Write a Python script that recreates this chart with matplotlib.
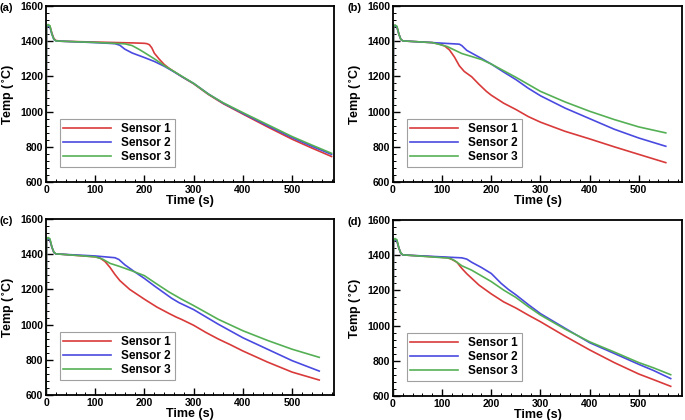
import matplotlib
matplotlib.use("Agg")
import matplotlib.pyplot as plt
from matplotlib.ticker import MultipleLocator

plt.rcParams['font.family'] = ['Liberation Sans', 'DejaVu Sans']
plt.rcParams['font.weight'] = 'bold'

panel_labels = ["(a)", "(b)", "(c)", "(d)"]
series_names = ["Sensor 1", "Sensor 2", "Sensor 3"]
colors = ["#d93a3a", "#4a4ae0", "#55b055"]

start_t = [0, 1, 4, 8, 12, 16, 20, 30]

# Panel (a)
a_t1 = start_t + [100, 180, 200, 205, 210, 215, 220, 230, 240, 250, 275, 300, 330, 360, 400, 450, 500, 540, 580]
a_y1 = [600, 1480, 1492, 1485, 1445, 1415, 1404, 1400, 1395, 1390, 1388, 1386, 1380, 1362, 1332, 1298, 1268, 1246, 1200, 1158, 1097, 1045, 986, 913, 843, 793, 745]
a_t2 = start_t + [100, 140, 150, 160, 175, 200, 220, 240, 260, 280, 300, 330, 360, 400, 450, 500, 540, 580]
a_y2 = [600, 1480, 1490, 1480, 1440, 1410, 1402, 1400, 1392, 1386, 1377, 1355, 1333, 1307, 1285, 1258, 1226, 1192, 1160, 1100, 1048, 990, 920, 852, 803, 757]
a_t3 = start_t + [100, 160, 175, 190, 200, 220, 240, 260, 280, 300, 330, 360, 400, 450, 500, 540, 580]
a_y3 = [600, 1480, 1495, 1488, 1440, 1412, 1402, 1400, 1393, 1385, 1375, 1352, 1335, 1300, 1262, 1228, 1194, 1160, 1099, 1050, 994, 926, 858, 810, 763]

# Panel (b)
b_t1 = start_t + [80, 95, 105, 115, 125, 135, 145, 160, 175, 190, 200, 225, 250, 275, 300, 350, 400, 450, 500, 555]
b_y1 = [600, 1480, 1490, 1480, 1440, 1410, 1402, 1400, 1392, 1383, 1373, 1350, 1310, 1260, 1228, 1198, 1155, 1115, 1093, 1048, 1012, 972, 940, 888, 845, 800, 757, 710]
b_t2 = start_t + [80, 130, 135, 140, 150, 165, 180, 200, 225, 250, 275, 300, 350, 400, 450, 500, 555]
b_y2 = [600, 1480, 1490, 1480, 1440, 1410, 1402, 1400, 1392, 1384, 1383, 1375, 1348, 1325, 1302, 1270, 1225, 1182, 1133, 1090, 1020, 960, 900, 850, 803]
b_t3 = start_t + [80, 90, 110, 125, 140, 160, 180, 200, 220, 250, 300, 350, 400, 450, 500, 555]
b_y3 = [600, 1480, 1492, 1485, 1440, 1410, 1402, 1400, 1392, 1385, 1370, 1350, 1330, 1313, 1296, 1270, 1240, 1195, 1115, 1055, 1002, 955, 913, 879]

# Panel (c)
c_t1 = start_t + [100, 110, 120, 130, 140, 150, 170, 200, 225, 250, 265, 275, 300, 325, 350, 375, 400, 450, 500, 555]
c_y1 = [600, 1480, 1490, 1480, 1440, 1410, 1402, 1400, 1385, 1378, 1358, 1325, 1285, 1250, 1200, 1144, 1100, 1063, 1042, 1030, 996, 955, 918, 885, 850, 787, 730, 685]
c_t2 = start_t + [100, 140, 148, 160, 180, 200, 220, 240, 255, 270, 285, 300, 350, 400, 450, 500, 555]
c_y2 = [600, 1480, 1490, 1480, 1440, 1410, 1402, 1400, 1390, 1380, 1370, 1340, 1300, 1262, 1220, 1180, 1150, 1125, 1105, 1085, 1002, 925, 860, 795, 736]
c_t3 = start_t + [100, 115, 130, 150, 175, 200, 220, 250, 275, 300, 350, 400, 450, 500, 555]
c_y3 = [600, 1480, 1495, 1488, 1440, 1412, 1402, 1400, 1385, 1372, 1348, 1330, 1305, 1278, 1240, 1185, 1145, 1108, 1030, 965, 910, 860, 814]

# Panel (d)
d_t1 = start_t + [110, 120, 130, 140, 150, 175, 200, 225, 250, 275, 300, 350, 400, 450, 500, 530, 565]
d_y1 = [600, 1480, 1490, 1480, 1440, 1410, 1402, 1400, 1386, 1376, 1360, 1325, 1295, 1230, 1180, 1135, 1100, 1060, 1022, 940, 862, 790, 725, 693, 655]
d_t2 = start_t + [140, 150, 160, 180, 200, 220, 235, 250, 275, 300, 350, 400, 450, 500, 530, 565]
d_y2 = [600, 1480, 1490, 1480, 1440, 1410, 1402, 1400, 1385, 1378, 1360, 1330, 1296, 1240, 1205, 1175, 1120, 1068, 985, 903, 842, 780, 745, 699]
d_t3 = start_t + [115, 125, 140, 160, 200, 225, 250, 275, 300, 350, 400, 450, 500, 530, 565]
d_y3 = [600, 1480, 1495, 1488, 1440, 1412, 1402, 1400, 1383, 1370, 1340, 1315, 1250, 1202, 1160, 1108, 1060, 980, 908, 850, 790, 760, 721]

panels = [
    [(a_t1, a_y1), (a_t2, a_y2), (a_t3, a_y3)],
    [(b_t1, b_y1), (b_t2, b_y2), (b_t3, b_y3)],
    [(c_t1, c_y1), (c_t2, c_y2), (c_t3, c_y3)],
    [(d_t1, d_y1), (d_t2, d_y2), (d_t3, d_y3)],
]

W, H = 685, 420
# axes boxes in pixels: left, top, right, bottom
boxes = [(46, 6, 334, 182), (393, 6, 682, 182), (46, 219, 334, 395), (393, 220, 682, 396)]
xmax = [585, 588, 585, 588]

fig = plt.figure(figsize=(W / 100, H / 100), dpi=100)
for i, (l, t, r, b) in enumerate(boxes):
    ax = fig.add_axes([l / W, 1 - b / H, (r - l) / W, (b - t) / H])
    for (tt, yy), c, name in zip(panels[i], colors, series_names):
        ax.plot(tt, yy, color=c, lw=1.2, label=name)
    ax.set_xlim(0, xmax[i])
    ax.set_ylim(600, 1600)
    ax.xaxis.set_major_locator(MultipleLocator(100))
    ax.xaxis.set_minor_locator(MultipleLocator(20))
    ax.yaxis.set_major_locator(MultipleLocator(200))
    ax.yaxis.set_minor_locator(MultipleLocator(40))
    ax.tick_params(which='major', direction='in', length=5, width=1, labelsize=7.5, pad=2)
    ax.tick_params(which='minor', direction='in', length=2.5, width=0.7)
    for lab in ax.get_xticklabels() + ax.get_yticklabels():
        lab.set_fontweight('bold')
    for s in ax.spines.values():
        s.set_linewidth(1.3)
    ax.set_xlabel("Time (s)", fontsize=9, fontweight='bold', labelpad=0)
    ax.set_ylabel("Temp ($^{\\circ}$C)", fontsize=9, fontweight='bold', labelpad=2)
    leg = ax.legend(loc='lower left', bbox_to_anchor=(0.048, 0.085), borderaxespad=0,
                    prop={'weight': 'bold', 'size': 8.5}, frameon=True, fancybox=False,
                    handlelength=4.0, handletextpad=0.9, borderpad=0.3, labelspacing=0.2)
    leg.get_frame().set_edgecolor('#888888')
    leg.get_frame().set_linewidth(0.8)
    fig.text((l - 46) / W, 1 - (t + 2) / H, panel_labels[i], fontsize=8, fontweight='bold',
             ha='left', va='center')

fig.savefig("out.png", dpi=100)
